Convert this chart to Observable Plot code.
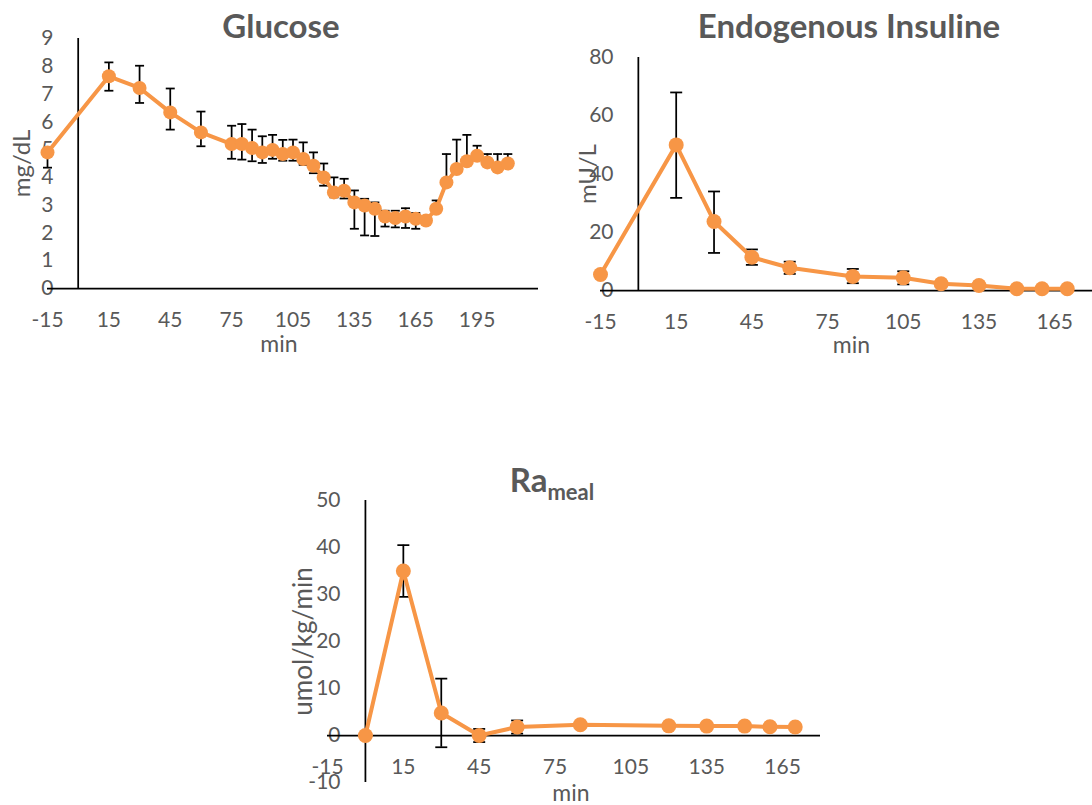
<!DOCTYPE html>
<html>
<head>
<meta charset="utf-8">
<script src="https://cdn.jsdelivr.net/npm/d3@7"></script>
<script src="https://cdn.jsdelivr.net/npm/@observablehq/plot@0.6"></script>
<style>
  body { margin: 0; background: #fff; }
  #page { position: relative; width: 1092px; height: 805px; overflow: hidden; font-family: Lato, sans-serif; }
  .panel { position: absolute; }
  .panel svg { overflow: visible; }
  .title { position: absolute; font-weight: 700; font-size: 33px; line-height: 33px; color: #595959;
           white-space: nowrap; transform: translateX(-50%); }
  .title .sub { font-size: 22px; position: relative; top: 8px; }
</style>
</head>
<body>
<div id="page">
  <div class="title" style="left:281px; top:9px">Glucose</div>
  <div class="title" style="left:849px; top:9px">Endogenous Insuline</div>
  <div class="title" style="left:552px; top:463px">Ra<span class="sub">meal</span></div>
  <div class="panel" id="glucose" style="left:0px; top:0px"></div>
  <div class="panel" id="insulin" style="left:560px; top:0px"></div>
  <div class="panel" id="rameal" style="left:290px; top:460px"></div>
</div>
<script>
// Plasma glucose (mean with lower / upper error limits), sampled every 5 min after 75 min
const glucoseTime = [-15, 15, 30, 45, 60, 75, 80, 85, 90, 95, 100, 105, 110, 115, 120, 125, 130, 135, 140, 145, 150, 155, 160, 165, 170, 175, 180, 185, 190, 195, 200, 205, 210];
const glucoseMean = [4.9, 7.64, 7.22, 6.34, 5.62, 5.2, 5.2, 5.06, 4.9, 4.99, 4.84, 4.9, 4.66, 4.42, 4.0, 3.46, 3.52, 3.1, 2.99, 2.87, 2.59, 2.54, 2.59, 2.51, 2.45, 2.87, 3.82, 4.3, 4.58, 4.78, 4.54, 4.36, 4.5];
const glucoseLow  = [4.35, 7.12, 6.68, 5.72, 5.12, 4.67, 4.64, 4.58, 4.52, 4.67, 4.6, 4.6, 4.45, 4.15, 3.7, 3.28, 3.24, 2.15, 1.91, 1.89, 2.23, 2.2, 2.18, 2.15, 2.35, 2.75, 3.7, 4.2, 4.45, 4.65, 4.45, 4.25, 4.4];
const glucoseHigh = [5.05, 8.14, 8.02, 7.2, 6.37, 5.86, 5.92, 5.72, 5.48, 5.53, 5.35, 5.36, 5.26, 4.9, 4.5, 4.0, 3.95, 3.53, 3.23, 3.1, 2.8, 2.8, 2.89, 2.72, 2.55, 3.17, 4.84, 5.36, 5.53, 5.14, 4.84, 4.84, 4.84];
const glucoseXTicks = [-15, 15, 45, 75, 105, 135, 165, 195];
const glucoseYTicks = [0, 1, 2, 3, 4, 5, 6, 7, 8, 9];

// Endogenous insulin (mU/L); later samples carry no visible error bar
const insulinTime = [-15, 15, 30, 45, 60, 85, 105, 120, 135, 150, 160, 170];
const insulinMean = [5.5, 50.0, 23.7, 11.4, 7.8, 4.8, 4.35, 2.3, 1.7, 0.6, 0.6, 0.6];
const insulinLow  = [null, 31.8, 12.9, 8.8, 5.7, 2.5, 2.1, null, null, null, null, null];
const insulinHigh = [null, 68.0, 34.0, 14.1, 9.9, 7.4, 6.6, null, null, null, null, null];
const insulinXTicks = [-15, 15, 45, 75, 105, 135, 165];
const insulinYTicks = [0, 20, 40, 60, 80];

// Rate of appearance of meal glucose (umol/kg/min)
const raTime = [0, 15, 30, 45, 60, 85, 120, 135, 150, 160, 170];
const raMean = [0, 35.0, 4.8, 0, 1.8, 2.3, 2.05, 2.0, 2.0, 1.85, 1.8];
const raLow  = [null, 29.5, -2.5, -1.4, 0.4, null, null, null, null, null, null];
const raHigh = [null, 40.5, 12.1, 1.4, 3.2, null, null, null, null, null, null];
const raXTicks = [-15, 15, 45, 75, 105, 135, 165];
const raYTicks = [-10, 0, 10, 20, 30, 40, 50];

const ORANGE = "#F79646";
const INK = "#595959";
const FONT = 21;        // tick labels
const AXIS_FONT = 23;   // "min" axis title

// horizontal cap drawn at each end of an error bar
const capSymbol = {
  draw(context, size) {
    const r = Math.sqrt(size / Math.PI);
    context.moveTo(-r, 0);
    context.lineTo(r, 0);
  }
};

function panel(cfg) {
  const rows = cfg.time.map((t, i) => ({t, v: cfg.mean[i], lo: cfg.low[i], hi: cfg.high[i]}));
  const bars = rows.filter(d => d.lo != null && d.hi != null);
  return Plot.plot({
    width: cfg.width,
    height: cfg.height,
    marginLeft: cfg.marginLeft,
    marginRight: cfg.marginRight,
    marginTop: cfg.marginTop,
    marginBottom: cfg.marginBottom,
    style: {fontFamily: "Lato, sans-serif", background: "transparent", overflow: "visible"},
    x: {domain: cfg.xDomain, axis: null},
    y: {domain: cfg.yDomain, axis: null},
    marks: [
      Plot.axisY({ticks: cfg.yTicks, tickSize: 0, tickPadding: cfg.yPad, fontSize: FONT, fill: INK,
                  tickFormat: d => String(d), label: null}),
      Plot.axisX({ticks: cfg.xTicks, tickSize: 0, tickPadding: cfg.xPad, fontSize: FONT, fill: INK,
                  tickFormat: d => String(d), label: null}),
      Plot.text([cfg.yLabel], {frameAnchor: "left", rotate: -90, dx: cfg.yLabelDx, textAnchor: "middle",
                               lineAnchor: "middle", fontSize: cfg.yLabelFont, fill: INK}),
      Plot.text(["min"], {frameAnchor: "bottom", dx: cfg.minDx, dy: cfg.minDy, textAnchor: "middle",
                          lineAnchor: "middle", fontSize: AXIS_FONT, fill: INK}),
      Plot.ruleY([0], {stroke: "black", strokeWidth: 1.75}),
      Plot.ruleX([0], {stroke: "black", strokeWidth: 1.75}),
      Plot.ruleX(bars, {x: "t", y1: "lo", y2: "hi", stroke: "black", strokeWidth: 1.75}),
      Plot.dot(bars, {x: "t", y: "hi", symbol: capSymbol, r: cfg.cap, fill: "none", stroke: "black", strokeWidth: 1.75}),
      Plot.dot(bars, {x: "t", y: "lo", symbol: capSymbol, r: cfg.cap, fill: "none", stroke: "black", strokeWidth: 1.75}),
      Plot.line(rows, {x: "t", y: "v", stroke: ORANGE, strokeWidth: 4, strokeLinejoin: "round"}),
      Plot.dot(rows, {x: "t", y: "v", r: cfg.r, fill: ORANGE, stroke: "none"})
    ]
  });
}

document.getElementById("glucose").append(panel({
  time: glucoseTime, mean: glucoseMean, low: glucoseLow, high: glucoseHigh,
  xDomain: [-15, 225], yDomain: [0, 9], xTicks: glucoseXTicks, yTicks: glucoseYTicks,
  width: 543, height: 360, marginLeft: 47, marginRight: 5, marginTop: 38, marginBottom: 72,
  yPad: -6, xPad: 24, yLabel: "mg/dL", yLabelFont: 24, yLabelDx: -25, minDx: -14, minDy: 56, r: 7, cap: 4.5
}));

document.getElementById("insulin").append(panel({
  time: insulinTime, mean: insulinMean, low: insulinLow, high: insulinHigh,
  xDomain: [-15, 180], yDomain: [0, 80], xTicks: insulinXTicks, yTicks: insulinYTicks,
  width: 532, height: 360, marginLeft: 40, marginRight: 0, marginTop: 57, marginBottom: 70,
  yPad: -13, xPad: 24, yLabel: "mU/L", yLabelFont: 24, yLabelDx: -12, minDx: 5, minDy: 55, r: 7.5, cap: 6
}));

document.getElementById("rameal").append(panel({
  time: raTime, mean: raMean, low: raLow, high: raHigh,
  xDomain: [-15, 180], yDomain: [-10, 50], xTicks: raXTicks, yTicks: raYTicks,
  width: 530, height: 345, marginLeft: 37, marginRight: 0, marginTop: 40, marginBottom: 23,
  yPad: -13, xPad: -23, yLabel: "umol/kg/min", yLabelFont: 26, yLabelDx: -24, minDx: -3, minDy: 11, r: 7.5, cap: 6
}));
</script>
</body>
</html>
